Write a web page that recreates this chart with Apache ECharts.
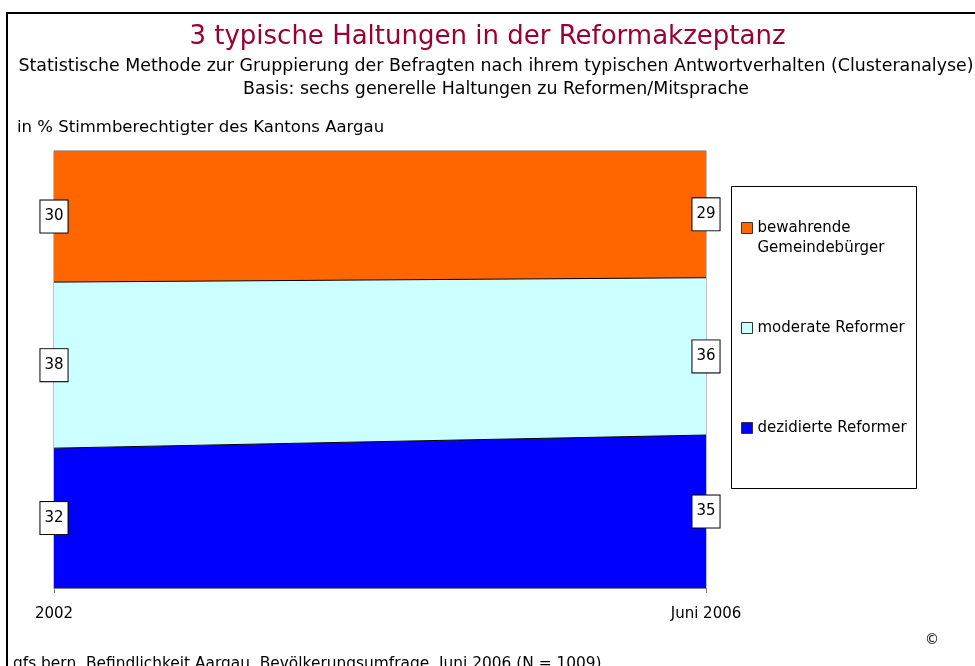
<!DOCTYPE html>
<html>
<head>
<meta charset="utf-8">
<script src="https://cdn.jsdelivr.net/npm/echarts@6/dist/echarts.min.js"></script>
<style>
  html, body { margin: 0; padding: 0; background: #fff; }
  #chart { width: 975px; height: 666px; }
</style>
</head>
<body>
<div id="chart"></div>
<script>
// data
const years = ["2002", "Juni 2006"];
const seriesNames = ["dezidierte Reformer", "moderate Reformer", "bewahrende Gemeindebürger"];
const dezidierte = [32, 35];
const moderate = [38, 36];
const bewahrende = [30, 29];
const colors = ["#0000FF", "#CCFFFF", "#FF6600"];

const values = [dezidierte, moderate, bewahrende];
const font = "DejaVu Sans";

// label points in the middle of each stacked band
const labelData = [];
values.forEach((vals, s) => {
  vals.forEach((v, i) => {
    let below = 0;
    for (let k = 0; k < s; k++) below += values[k][i];
    labelData.push([i, below + v / 2, v]);
  });
});

const areaSeries = values.map((vals, s) => ({
  name: seriesNames[s],
  type: "line",
  stack: "total",
  data: vals,
  symbol: "none",
  color: colors[s],
  lineStyle: { color: s === 2 ? "#808080" : "#000", width: 1 },
  areaStyle: { color: colors[s], opacity: 1 },
  emphasis: { disabled: true },
  z: 2,
}));

const legendTops = [418, 318, 198];
const legends = seriesNames.map((n, s) => ({
  data: [n],
  left: 741,
  top: legendTops[s],
  padding: 0,
  icon: "rect",
  itemWidth: 11,
  itemHeight: 11,
  itemGap: 5,
  selectedMode: false,
  itemStyle: { borderColor: "#333", borderWidth: 1 },
  // first line of the two-line name sits level with the icon
  formatter: (name) => name.indexOf(" Gemeinde") > 0 ? " \n" + name.replace(" Gemeinde", "\nGemeinde") : name,
  textStyle: { fontFamily: font, fontSize: 15, color: "#000", lineHeight: 20 },
  z: 10,
}));

const chart = echarts.init(document.getElementById("chart"));
chart.setOption({
  backgroundColor: "#fff",
  animation: false,
  title: [
    {
      text: "3 typische Haltungen in der Reformakzeptanz",
      left: "center", top: 19,
      textStyle: { fontFamily: font, fontSize: 26, fontWeight: "normal", color: "#990033" },
    },
    {
      text: "Statistische Methode zur Gruppierung der Befragten nach ihrem typischen Antwortverhalten (Clusteranalyse)\nBasis: sechs generelle Haltungen zu Reformen/Mitsprache",
      left: 491, top: 50, textAlign: "center",
      textStyle: { fontFamily: font, fontSize: 17.4, fontWeight: "normal", color: "#000", lineHeight: 23, align: "center" },
    },
    {
      text: "in % Stimmberechtigter des Kantons Aargau",
      left: 12, top: 114,
      textStyle: { fontFamily: font, fontSize: 16.5, fontWeight: "normal", color: "#000" },
    },
    {
      text: "gfs.bern, Befindlichkeit Aargau, Bevölkerungsumfrage, Juni 2006 (N = 1009)",
      left: 8, top: 651,
      textStyle: { fontFamily: font, fontSize: 15.4, fontWeight: "normal", color: "#000" },
    },
    {
      text: "©",
      left: 920, top: 628,
      textStyle: { fontFamily: font, fontSize: 14, fontWeight: "normal", color: "#000" },
    },
  ],
  legend: legends,
  graphic: [
    {
      type: "rect", z: 1,
      shape: { x: 7, y: 13, width: 1000, height: 700 },
      style: { fill: "none", stroke: "#000", lineWidth: 2 },
    },
    {
      type: "rect", z: 1,
      shape: { x: 731.5, y: 186.5, width: 185, height: 302 },
      style: { fill: "#fff", stroke: "#000", lineWidth: 1 },
    },
  ],
  grid: {
    left: 54, right: 269, top: 151, bottom: 78,
    show: true, borderColor: "#808080", borderWidth: 1, backgroundColor: "transparent",
  },
  xAxis: {
    type: "category",
    data: years,
    boundaryGap: false,
    axisLine: { lineStyle: { color: "#808080", width: 1 } },
    axisTick: { show: true, length: 5, lineStyle: { color: "#808080" } },
    axisLabel: { fontFamily: font, fontSize: 15, color: "#000", margin: 19 },
    splitLine: { show: false },
  },
  yAxis: {
    type: "value",
    min: 0, max: 100,
    axisLine: { show: true, lineStyle: { color: "#808080", width: 1 } },
    axisTick: { show: false },
    axisLabel: { show: false },
    splitLine: { show: false },
  },
  series: [
    ...areaSeries,
    {
      type: "scatter",
      data: labelData,
      symbolSize: 1,
      itemStyle: { color: "rgba(0,0,0,0)", opacity: 1 },
      z: 10,
      silent: true,
      label: {
        show: true,
        position: "inside",
        formatter: (p) => String(p.value[2]),
        fontFamily: font,
        fontSize: 15,
        color: "#000",
        opacity: 1,
        backgroundColor: "#fff",
        borderColor: "#000",
        borderWidth: 1,
        padding: [9, 4, 8, 4],
      },
    },
  ],
});
</script>
</body>
</html>
